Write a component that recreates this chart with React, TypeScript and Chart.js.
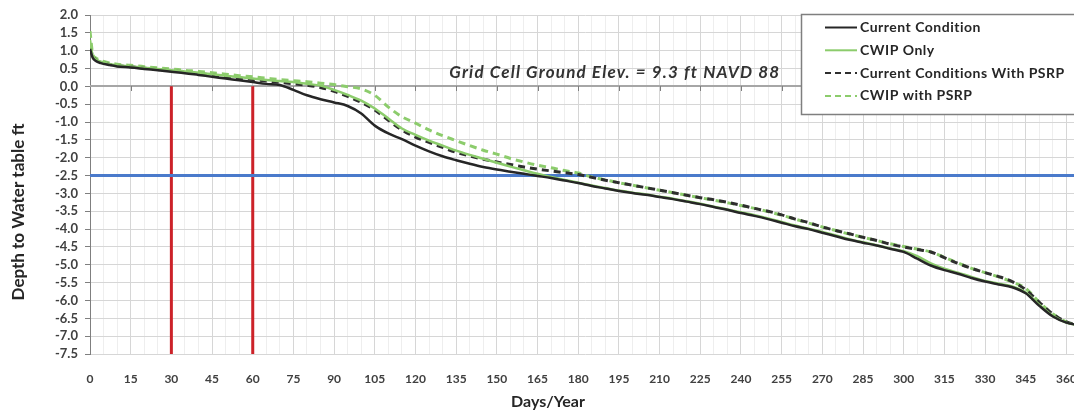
import React, { useEffect, useRef } from 'react';
import { Chart, registerables } from 'chart.js';

Chart.register(...registerables);

// Day of year for each sample
const days = [0, 1, 2, 4, 7, 10, 15, 20, 25, 30, 35, 40, 45, 50, 55, 60, 65, 70, 75, 80, 85, 90, 95, 100, 105, 110, 115, 120, 125, 130, 135, 140, 145, 150, 155, 160, 165, 170, 175, 180, 185, 190, 195, 200, 205, 210, 215, 220, 225, 230, 235, 240, 245, 250, 255, 260, 265, 270, 275, 280, 285, 290, 295, 300, 305, 310, 315, 320, 325, 330, 335, 340, 345, 350, 355, 360, 365];

// Depth to water table (ft) for each scenario
const currentCondition = [1.05, 0.8, 0.72, 0.65, 0.6, 0.56, 0.53, 0.49, 0.45, 0.41, 0.37, 0.32, 0.27, 0.22, 0.17, 0.12, 0.07, 0.04, -0.1, -0.25, -0.36, -0.45, -0.55, -0.76, -1.1, -1.32, -1.48, -1.66, -1.82, -1.96, -2.07, -2.17, -2.26, -2.33, -2.39, -2.45, -2.51, -2.57, -2.64, -2.71, -2.79, -2.86, -2.93, -2.99, -3.04, -3.1, -3.16, -3.23, -3.3, -3.38, -3.46, -3.55, -3.63, -3.72, -3.82, -3.92, -4.0, -4.1, -4.2, -4.3, -4.38, -4.46, -4.55, -4.64, -4.83, -5.02, -5.15, -5.25, -5.37, -5.47, -5.55, -5.63, -5.8, -6.15, -6.45, -6.62, -6.7];

const cwipOnly = [1.3, 0.85, 0.76, 0.69, 0.63, 0.59, 0.56, 0.52, 0.49, 0.45, 0.42, 0.38, 0.34, 0.3, 0.26, 0.22, 0.18, 0.15, 0.12, 0.07, 0.02, -0.1, -0.24, -0.4, -0.62, -0.9, -1.18, -1.36, -1.52, -1.66, -1.8, -1.92, -2.03, -2.14, -2.25, -2.35, -2.45, -2.54, -2.62, -2.7, -2.78, -2.85, -2.92, -2.98, -3.03, -3.09, -3.15, -3.22, -3.29, -3.37, -3.45, -3.53, -3.61, -3.7, -3.8, -3.9, -3.99, -4.08, -4.18, -4.28, -4.37, -4.45, -4.54, -4.62, -4.76, -4.96, -5.11, -5.22, -5.34, -5.45, -5.53, -5.61, -5.78, -6.12, -6.43, -6.62, -6.7];

const currentWithPsrp = [1.1, 0.85, 0.75, 0.68, 0.62, 0.58, 0.55, 0.51, 0.47, 0.44, 0.4, 0.36, 0.32, 0.27, 0.23, 0.19, 0.15, 0.11, 0.07, 0.03, -0.03, -0.14, -0.28, -0.45, -0.66, -0.95, -1.22, -1.42, -1.57, -1.71, -1.85, -1.95, -2.04, -2.12, -2.19, -2.26, -2.32, -2.37, -2.42, -2.47, -2.55, -2.63, -2.7, -2.77, -2.84, -2.91, -2.98, -3.05, -3.12, -3.18, -3.25, -3.33, -3.42, -3.5, -3.6, -3.72, -3.82, -3.94, -4.04, -4.13, -4.23, -4.32, -4.42, -4.5, -4.57, -4.64, -4.8, -4.96, -5.1, -5.22, -5.33, -5.47, -5.7, -6.05, -6.38, -6.6, -6.7];

const cwipWithPsrp = [1.55, 0.9, 0.8, 0.72, 0.66, 0.62, 0.59, 0.55, 0.52, 0.49, 0.45, 0.42, 0.38, 0.34, 0.3, 0.27, 0.23, 0.19, 0.16, 0.13, 0.09, 0.05, -0.01, -0.07, -0.25, -0.58, -0.85, -1.03, -1.22, -1.38, -1.52, -1.66, -1.79, -1.9, -2.02, -2.12, -2.21, -2.28, -2.36, -2.43, -2.54, -2.62, -2.7, -2.77, -2.84, -2.91, -2.98, -3.05, -3.12, -3.19, -3.26, -3.34, -3.42, -3.51, -3.61, -3.72, -3.83, -3.94, -4.04, -4.14, -4.23, -4.32, -4.41, -4.49, -4.56, -4.64, -4.79, -4.95, -5.1, -5.22, -5.34, -5.48, -5.66, -6.05, -6.38, -6.6, -6.7];

const seriesNames = ['Current Condition', 'CWIP Only', 'Current Conditions With PSRP', 'CWIP with PSRP'];
const seriesColors = ['#262626', '#8ccc6c', '#2e2e2e', '#8ccc6c'];
const seriesDashed = [false, false, true, true];

// Reference marks
const thresholdDepth = -2.5;
const markerDays = [30, 60];
const xMin = 0;
const xMax = 365;
const yMin = -7.5;
const yMax = 2.0;

const noteText = 'Grid Cell Ground Elev. = 9.3 ft NAVD 88';
const noteDay = 193.5;
const noteDepth = 0.4;

const xTitle = 'Days/Year';
const yTitle = 'Depth to Water table ft';

const FONT = 'Lato, "Open Sans", sans-serif';

const overlayPlugin = {
  id: 'overlay',
  beforeDatasetsDraw(chart: any) {
    const { ctx, chartArea, scales } = chart;
    const x = scales.x;
    const y = scales.y;
    const y0 = Math.round(y.getPixelForValue(0));
    ctx.save();
    // horizontal axis crossing at zero
    ctx.strokeStyle = '#a6a6a6';
    ctx.lineWidth = 2;
    ctx.beginPath();
    ctx.moveTo(chartArea.left, y0);
    ctx.lineTo(chartArea.right, y0);
    ctx.stroke();
    ctx.strokeStyle = '#7f7f7f';
    ctx.lineWidth = 1;
    ctx.beginPath();
    x.ticks.forEach((t: any) => {
      if (t.value % 15 !== 0 || t.value === 0) return;
      const px = Math.round(x.getPixelForValue(t.value)) + 0.5;
      ctx.moveTo(px, y0);
      ctx.lineTo(px, y0 + 5);
    });
    ctx.stroke();
    ctx.restore();
  },
  afterDraw(chart: any) {
    const { ctx, scales } = chart;
    const x = scales.x;
    const y = scales.y;
    ctx.save();
    ctx.fillStyle = '#262626';

    // axis titles
    ctx.font = `bold 16px ${FONT}`;
    ctx.textAlign = 'center';
    ctx.textBaseline = 'middle';
    ctx.fillText(xTitle, 548, 402);
    ctx.save();
    ctx.translate(19, 212);
    ctx.rotate(-Math.PI / 2);
    ctx.font = `bold 17px ${FONT}`;
    ctx.fillText(yTitle, 0, 0);
    ctx.restore();

    // elevation note
    ctx.font = `italic bold 17px ${FONT}`;
    (ctx as any).letterSpacing = '1.2px';
    ctx.fillStyle = '#333333';
    ctx.fillText(noteText, x.getPixelForValue(noteDay), y.getPixelForValue(noteDepth));
    (ctx as any).letterSpacing = '0px';

    // legend box
    const bx = 801.5;
    const by = 14.5;
    const bw = 320;
    const bh = 100;
    ctx.fillStyle = '#ffffff';
    ctx.fillRect(bx, by, bw, bh);
    ctx.strokeStyle = '#7f7f7f';
    ctx.lineWidth = 1.5;
    ctx.strokeRect(bx, by, bw, bh);
    ctx.font = `bold 14px ${FONT}`;
    (ctx as any).letterSpacing = '0.5px';
    ctx.textAlign = 'left';
    ctx.textBaseline = 'middle';
    seriesNames.forEach((name, i) => {
      const ry = 27.5 + i * 22.8;
      ctx.beginPath();
      ctx.strokeStyle = seriesColors[i];
      ctx.lineWidth = 2;
      ctx.setLineDash(seriesDashed[i] ? [6, 4] : []);
      ctx.moveTo(825, ry);
      ctx.lineTo(857, ry);
      ctx.stroke();
      ctx.setLineDash([]);
      ctx.fillStyle = '#262626';
      ctx.fillText(name, 860, ry);
    });
    ctx.restore();
  },
};

export default function App() {
  const canvasRef = useRef<HTMLCanvasElement | null>(null);

  useEffect(() => {
    const canvas = canvasRef.current;
    if (!canvas) return;

    const seriesValues = [currentCondition, cwipOnly, currentWithPsrp, cwipWithPsrp];
    const seriesSets = seriesValues.map((vals, i) => ({
      label: seriesNames[i],
      data: days.map((d, j) => ({ x: d, y: vals[j] })),
      borderColor: seriesColors[i],
      borderWidth: seriesDashed[i] ? 3 : 2.5,
      borderDash: seriesDashed[i] ? [7, 5] : [],
      pointRadius: 0,
      cubicInterpolationMode: 'monotone' as const,
      fill: false,
    }));

    const thresholdSet = {
      label: 'threshold',
      data: [
        { x: xMin, y: thresholdDepth },
        { x: xMax, y: thresholdDepth },
      ],
      borderColor: '#4a7acb',
      borderWidth: 3,
      pointRadius: 0,
      fill: false,
    };

    const markerSets = markerDays.map((d) => ({
      label: `day ${d}`,
      data: [
        { x: d, y: 0 },
        { x: d, y: yMin },
      ],
      borderColor: '#cc2229',
      borderWidth: 3,
      pointRadius: 0,
      fill: false,
    }));

    const chart = new Chart(canvas, {
      type: 'line',
      data: { datasets: [...seriesSets, thresholdSet, ...markerSets] as any },
      options: {
        animation: false,
        responsive: false,
        devicePixelRatio: 1,
        layout: { padding: { left: 0, right: 20, top: 15, bottom: 0 } },
        plugins: {
          legend: { display: false },
          tooltip: { enabled: false },
        },
        scales: {
          x: {
            type: 'linear',
            min: xMin,
            max: xMax,
            afterFit: (s: any) => {
              s.height = 61;
            },
            ticks: {
              stepSize: 5,
              includeBounds: false,
              autoSkip: false,
              maxRotation: 0,
              padding: 18,
              color: '#404040',
              font: { family: FONT, size: 12, weight: 'bold' },
              callback: (v: any) => (Number(v) % 15 === 0 ? String(v) : ''),
            },
            grid: {
              drawTicks: false,
              color: (c: any) => (c.tick && c.tick.value % 15 === 0 ? '#d6d6d6' : '#eeeeee'),
            },
            border: { display: false },
          },
          y: {
            type: 'linear',
            min: yMin,
            max: yMax,
            afterFit: (s: any) => {
              s.width = 90;
            },
            ticks: {
              stepSize: 0.5,
              includeBounds: false,
              autoSkip: false,
              padding: 7,
              color: '#404040',
              font: { family: FONT, size: 13, weight: 'bold' },
              callback: (v: any) => Number(v).toFixed(1),
            },
            grid: {
              color: '#d6d6d6',
              tickColor: '#7f7f7f',
              tickLength: 5,
            },
            border: { display: true, color: '#7f7f7f', width: 1 },
          },
        },
      },
      plugins: [overlayPlugin],
    });

    return () => chart.destroy();
  }, []);

  return (
    <div
      style={{
        position: 'absolute',
        left: 0,
        top: 0,
        width: 1074,
        height: 415,
        overflow: 'hidden',
        background: '#ffffff',
      }}
    >
      <canvas ref={canvasRef} width={1100} height={415} style={{ width: 1100, height: 415, display: 'block' }} />
    </div>
  );
}
